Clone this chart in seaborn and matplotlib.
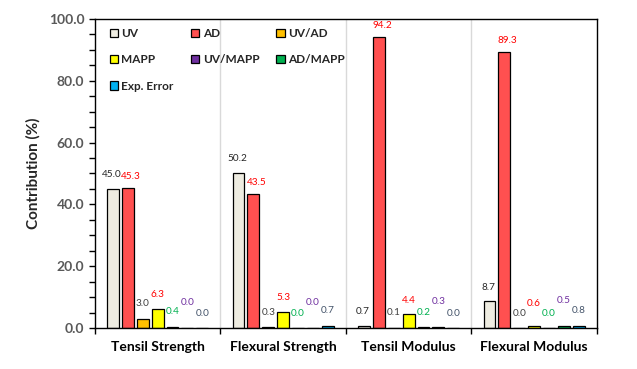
import matplotlib
matplotlib.use("Agg")
import matplotlib.pyplot as plt
import numpy as np
import pandas as pd
import seaborn as sns

# values
properties = ["Tensil Strength", "Flexural Strength", "Tensil Modulus", "Flexural Modulus"]
factors = ["UV", "AD", "UV/AD", "MAPP", "UV/MAPP", "AD/MAPP", "Exp. Error"]
uv = [45.0, 50.2, 0.7, 8.7]
ad = [45.3, 43.5, 94.2, 89.3]
uv_ad = [3.0, 0.3, 0.1, 0.0]
mapp = [6.3, 5.3, 4.4, 0.6]
uv_mapp = [0.4, 0.0, 0.2, 0.0]
ad_mapp = [0.0, 0.0, 0.3, 0.5]
exp_error = [0.0, 0.7, 0.0, 0.8]
y_ticks = [0, 20, 40, 60, 80, 100]

series = [uv, ad, uv_ad, mapp, uv_mapp, ad_mapp, exp_error]
rows = []
for f, vals in zip(factors, series):
    for p, v in zip(properties, vals):
        rows.append({"Property": p, "Factor": f, "Contribution": v})
df = pd.DataFrame(rows)

fill_colors = ["#eeece1", "#ff5050", "#ffc000", "#ffff00", "#7030a0", "#00b050", "#00b0f0"]
label_colors = ["#262626", "#ff0000", "#404040", "#ff0000", "#00b050", "#7030a0", "#44546a"]
# label offsets from bar top (pixels) and lowest anchor, as hand-placed in the original
label_dx = [-1.5, 3, 0, 0, 0, 0, 0]
label_offsets = [14, 11, 15, 14, 15, 26, 15]
label_floor = [0, 0, 0, 3.5, 0, 0, 0]

sns.set_style("white")
plt.rcParams['font.family'] = ['Lato', 'DejaVu Sans']

fig = plt.figure(figsize=(6.37, 3.69), dpi=100)
ax = fig.add_axes([0.149, 0.111, 0.788, 0.838])

sns.barplot(data=df, x="Property", y="Contribution", hue="Factor",
            order=properties, hue_order=factors, palette=fill_colors,
            width=0.83, gap=0.2, edgecolor="black", linewidth=0.9,
            saturation=1, ax=ax)

px = 72 / fig.dpi
for cont, col, dx, off, fl in zip(ax.containers, label_colors, label_dx, label_offsets, label_floor):
    for bar in cont:
        h = bar.get_height()
        ax.annotate(f"{h:.1f}", (bar.get_x() + bar.get_width() / 2, max(h, fl)),
                    xytext=(dx * px, off * px), textcoords="offset points",
                    ha="center", va="center", fontsize=7.2, color=col)

ax.set_ylim(0, 100)
ax.set_xlim(-0.5, 3.5)
ax.set_yticks(y_ticks)
ax.set_yticklabels([f"{t:.1f}" for t in y_ticks], fontweight="bold", color="#595959", fontsize=10)
ax.set_yticks(np.arange(0, 101, 5), minor=True)
ax.tick_params(axis="y", which="both", direction="out", length=4.5, width=1, left=True, color="black", pad=3)

ax.set_xticks(np.arange(-0.5, 4, 1), minor=True)
ax.tick_params(axis="x", which="minor", direction="out", length=4.5, width=1, bottom=True, color="black")
ax.tick_params(axis="x", which="major", length=0, pad=9)
for lab in ax.get_xticklabels():
    lab.set_fontweight("bold")
    lab.set_fontsize(10)
    lab.set_color("black")

ax.grid(False)
for x in [0.5, 1.5, 2.5]:
    ax.axvline(x, color="#d9d9d9", lw=1, zorder=0)

for s in ax.spines.values():
    s.set_color("black")
    s.set_linewidth(1.0)

ax.set_xlabel("")
ax.set_ylabel("Contribution (%)", fontweight="bold", fontsize=11, labelpad=6)

# legend filled row by row: UV AD UV/AD / MAPP UV/MAPP AD/MAPP / Exp. Error
handles, labels = ax.get_legend_handles_labels()
order = [0, 3, 6, 1, 4, 2, 5]
leg = ax.legend([handles[i] for i in order], [labels[i] for i in order],
                ncol=3, loc="upper left", bbox_to_anchor=(0.008, 1.005), frameon=False,
                handlelength=0.7, handleheight=0.7, handletextpad=0.3,
                columnspacing=1.45, labelspacing=1.3,
                prop={"weight": "bold", "size": 8.5})
for h in leg.legend_handles:
    h.set_edgecolor("black")
    h.set_linewidth(0.9)

fig.savefig("out.png", dpi=100)
